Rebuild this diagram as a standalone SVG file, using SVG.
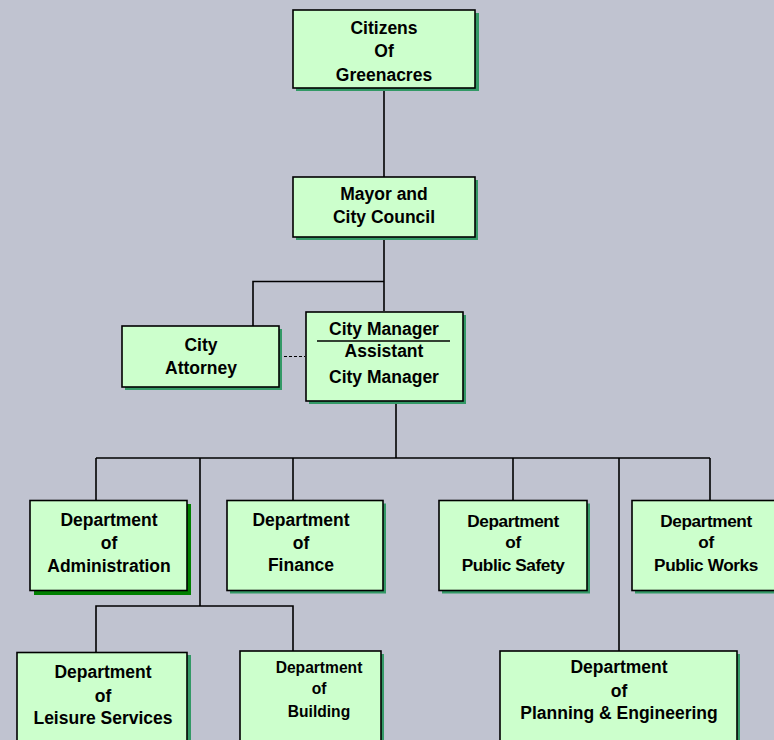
<svg xmlns="http://www.w3.org/2000/svg" width="774" height="740" viewBox="0 0 774 740">
<style>
.bg{fill:#c0c3d0}
.box{fill:#ccffcc;stroke:#000;stroke-width:1.6}
.sh{fill:#339966}
.sh2{fill:#008000}
.ln{fill:none;stroke:#000;stroke-width:1.6}
.dash{fill:none;stroke:#000;stroke-width:1;stroke-dasharray:3,2}
text{font-family:"Liberation Sans",Arial,sans-serif;font-weight:bold;font-size:17.5px;text-anchor:middle;fill:#000}
.sm{font-size:15.6px}
.md{font-size:17.2px;letter-spacing:-0.4px}
</style>
<rect class="bg" x="0" y="0" width="774" height="740"/>
<g id="connectors">
<line class="ln" x1="384" y1="88" x2="384" y2="311"/>
<polyline class="ln" points="253,326 253,281.5 384,281.5"/>
<line class="dash" x1="279" y1="356.5" x2="305" y2="356.5"/>
<line class="ln" x1="396" y1="401" x2="396" y2="458"/>
<line class="ln" x1="96" y1="458" x2="710" y2="458"/>
<line class="ln" x1="96" y1="458" x2="96" y2="500"/>
<line class="ln" x1="200" y1="458" x2="200" y2="606"/>
<line class="ln" x1="293" y1="458" x2="293" y2="500"/>
<line class="ln" x1="513" y1="458" x2="513" y2="500"/>
<line class="ln" x1="619" y1="458" x2="619" y2="651"/>
<line class="ln" x1="710" y1="458" x2="710" y2="500"/>
<polyline class="ln" points="96,652 96,606 293,606 293,651"/>
</g>
<g id="citizens">
<rect class="sh" x="296" y="13" width="183" height="78"/>
<rect class="box" x="293" y="10" width="182" height="78"/>
<text x="384" y="34">Citizens</text>
<text x="384" y="57">Of</text>
<text x="384" y="81">Greenacres</text>
</g>
<g id="mayor">
<rect class="sh" x="296" y="180" width="182" height="60"/>
<rect class="box" x="293" y="177" width="182" height="60"/>
<text x="384" y="200">Mayor and</text>
<text x="384" y="223">City Council</text>
</g>
<g id="attorney">
<rect class="sh" x="125" y="329" width="157" height="61"/>
<rect class="box" x="122" y="326" width="157" height="61"/>
<text x="201" y="351">City</text>
<text x="201" y="374">Attorney</text>
</g>
<g id="manager">
<rect class="sh" x="309" y="315" width="157" height="89"/>
<rect class="box" x="306" y="312" width="157" height="89"/>
<text x="384" y="335">City Manager</text>
<line class="ln" x1="317" y1="341" x2="450" y2="341"/>
<text x="384" y="357">Assistant</text>
<text x="384" y="383">City Manager</text>
</g>
<g id="administration">
<rect class="sh2" x="34" y="504" width="157" height="91"/>
<rect class="box" x="30" y="500.5" width="157" height="90"/>
<text x="109" y="526">Department</text>
<text x="109" y="549">of</text>
<text x="109" y="572">Administration</text>
</g>
<g id="finance">
<rect class="sh" x="230" y="503.5" width="156" height="90"/>
<rect class="box" x="227" y="500.5" width="156" height="90"/>
<text x="301" y="526">Department</text>
<text x="301" y="549">of</text>
<text x="301" y="571">Finance</text>
</g>
<g id="safety">
<rect class="sh" x="442" y="503.5" width="148" height="90"/>
<rect class="box" x="439" y="500.5" width="148" height="90"/>
<text class="md" x="513" y="527">Department</text>
<text class="md" x="513" y="548">of</text>
<text class="md" x="513" y="571">Public Safety</text>
</g>
<g id="works">
<rect class="sh" x="635" y="503.5" width="145" height="90"/>
<rect class="box" x="632" y="500.5" width="145" height="90"/>
<text class="md" x="706" y="527">Department</text>
<text class="md" x="706" y="548">of</text>
<text class="md" x="706" y="571">Public Works</text>
</g>
<g id="leisure">
<rect class="sh" x="20" y="655" width="171" height="95"/>
<rect class="box" x="17" y="652.5" width="170" height="95"/>
<text x="103" y="678">Department</text>
<text x="103" y="702">of</text>
<text x="103" y="724">Leisure Services</text>
</g>
<g id="building">
<rect class="sh" x="243" y="654" width="141" height="95"/>
<rect class="box" x="240" y="651" width="141" height="95"/>
<text class="sm" x="319" y="673">Department</text>
<text class="sm" x="319" y="694">of</text>
<text class="sm" x="319" y="717">Building</text>
</g>
<g id="planning">
<rect class="sh" x="503" y="654" width="237" height="95"/>
<rect class="box" x="500" y="651" width="237" height="95"/>
<text x="619" y="673">Department</text>
<text x="619" y="697">of</text>
<text x="619" y="719">Planning &amp; Engineering</text>
</g>
</svg>
